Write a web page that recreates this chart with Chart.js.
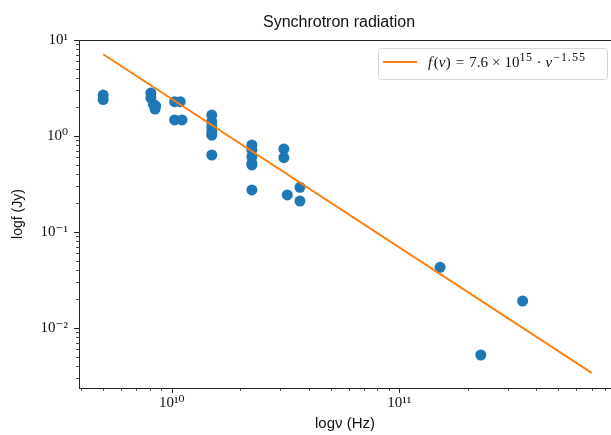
<!DOCTYPE html>
<html>
<head>
<meta charset="utf-8">
<script src="https://cdn.jsdelivr.net/npm/chart.js@4"></script>
<style>
  html, body { margin: 0; padding: 0; background: #fff; overflow: hidden; }
</style>
</head>
<body>
<canvas id="sync-chart" width="611" height="435"></canvas>
<script>
const frequencies = [
  5.0e9, 5.0e9,
  8.1e9, 8.1e9, 8.3e9, 8.5e9, 8.45e9,
  1.03e10, 1.09e10, 1.03e10, 1.11e10,
  1.5e10, 1.5e10, 1.5e10, 1.5e10, 1.5e10, 1.5e10,
  2.25e10, 2.25e10, 2.25e10, 2.25e10, 2.25e10, 2.25e10,
  3.11e10, 3.11e10, 3.22e10, 3.66e10, 3.66e10,
  1.51e11, 2.28e11, 3.48e11
];
const fluxes = [
  2.67, 2.40,
  2.81, 2.49, 2.15, 2.05, 1.91,
  2.28, 2.28, 1.47, 1.47,
  1.65, 1.41, 1.25, 1.11, 1.02, 0.634,
  0.806, 0.715, 0.609, 0.519, 0.499, 0.274,
  0.732, 0.594, 0.243, 0.292, 0.210,
  0.0429, 0.00523, 0.0191
];
// power law fit, start and end of the drawn line
const fitFrequencies = [5e9, 7e11];
const fitFluxes = [7.1, 3.4e-3];

const xMajorTicks = [1e10, 1e11];
const xMajorLabels = ['10¹⁰', '10¹¹'];
const yMajorTicks = [1e-2, 1e-1, 1e0, 1e1];
const yMajorLabels = ['10⁻²', '10⁻¹', '10⁰', '10¹'];

const axisColor = '#262626';
const serif = '"Liberation Serif", "DejaVu Serif", serif';

function isDecade(v) {
  const l = Math.log10(v);
  return Math.abs(l - Math.round(l)) < 1e-9;
}

function labelFor(value, majors, labels) {
  const i = majors.findIndex(m => Math.abs(value / m - 1) < 1e-6);
  return i >= 0 ? labels[i] : '';
}

// matplotlib style log ticks: 1..9 in every decade
function logTicks(scale) {
  const ticks = [];
  const e0 = Math.floor(Math.log10(scale.min));
  const e1 = Math.ceil(Math.log10(scale.max));
  for (let e = e0; e <= e1; e++) {
    for (let m = 1; m < 10; m++) {
      const v = m * Math.pow(10, e);
      if (v >= scale.min * 0.999 && v <= scale.max * 1.001) ticks.push({ value: v });
    }
  }
  scale.ticks = ticks;
}

// top spine, tick marks (major longer than minor) and title
const decorations = {
  id: 'decorations',
  afterDraw(chart) {
    const { ctx, chartArea, scales } = chart;
    ctx.save();
    ctx.strokeStyle = axisColor;
    ctx.lineWidth = 1;
    ctx.beginPath();
    ctx.moveTo(chartArea.left, chartArea.top + 0.5);
    ctx.lineTo(chartArea.right, chartArea.top + 0.5);
    ctx.stroke();

    scales.x.ticks.forEach(t => {
      const px = Math.round(scales.x.getPixelForValue(t.value)) + 0.5;
      const len = isDecade(t.value) ? 5 : 3;
      ctx.lineWidth = isDecade(t.value) ? 1 : 0.8;
      ctx.beginPath();
      ctx.moveTo(px, chartArea.bottom);
      ctx.lineTo(px, chartArea.bottom + len);
      ctx.stroke();
    });
    scales.y.ticks.forEach(t => {
      const py = Math.round(scales.y.getPixelForValue(t.value)) + 0.5;
      const len = isDecade(t.value) ? 5 : 3;
      ctx.lineWidth = isDecade(t.value) ? 1 : 0.8;
      ctx.beginPath();
      ctx.moveTo(chartArea.left, py);
      ctx.lineTo(chartArea.left - len, py);
      ctx.stroke();
    });

    ctx.fillStyle = '#111';
    ctx.font = '16px "Liberation Sans", sans-serif';
    ctx.textAlign = 'center';
    ctx.textBaseline = 'alphabetic';
    ctx.fillText('Synchrotron radiation', 339, 27);
    ctx.restore();
  }
};

// legend with the fit formula, superscripts drawn smaller and raised
const formulaLegend = {
  id: 'formulaLegend',
  afterDraw(chart) {
    const { ctx, chartArea } = chart;
    const left = 378;
    const right = 607;
    const top = chartArea.top + 8;
    const h = 31;
    ctx.save();
    ctx.fillStyle = 'rgba(255,255,255,0.8)';
    ctx.strokeStyle = '#d6d6d6';
    ctx.lineWidth = 1;
    ctx.beginPath();
    ctx.roundRect(left + 0.5, top + 0.5, right - left, h, 3);
    ctx.fill();
    ctx.stroke();

    const midY = top + 14;
    ctx.strokeStyle = '#ff7f0e';
    ctx.lineWidth = 2;
    ctx.beginPath();
    ctx.moveTo(left + 5, midY);
    ctx.lineTo(left + 39, midY);
    ctx.stroke();

    const base = top + 19;
    const roman = '15px ' + serif;
    const italic = 'italic 15px ' + serif;
    const sup = '12px ' + serif;
    // [text, font, gap before, raise, letter spacing]
    const parts = [
      ['f', italic, 0, 0, 0], ['(', roman, 1.5, 0, 0], ['ν', italic, 0, 0, 0], [')', roman, 0.5, 0, 0],
      ['=', roman, 5, 0, 0], ['7.6', roman, 5, 0, 0], ['×', roman, 4, 0, 0], ['10', roman, 4, 0, 0],
      ['15', sup, 0, -6, 0.5], ['·', roman, 4, 0, 0], ['ν', italic, 4, 0, 0], ['−1.55', sup, 1, -6, 1]
    ];
    ctx.fillStyle = '#111';
    ctx.textBaseline = 'alphabetic';
    let x = left + 50;
    parts.forEach(([text, font, gap, dy, ls]) => {
      ctx.font = font;
      ctx.letterSpacing = ls + 'px';
      x += gap;
      ctx.fillText(text, x, base + dy);
      x += ctx.measureText(text).width;
    });
    ctx.restore();
  }
};

const ctx = document.getElementById('sync-chart').getContext('2d');
new Chart(ctx, {
  type: 'scatter',
  data: {
    datasets: [
      {
        label: 'f(ν) = 7.6 × 10¹⁵ · ν^−1.55',
        data: fitFrequencies.map((f, i) => ({ x: f, y: fitFluxes[i] })),
        showLine: true,
        borderColor: '#ff7f0e',
        borderWidth: 2,
        pointRadius: 0,
        order: 0
      },
      {
        label: 'data',
        data: frequencies.map((f, i) => ({ x: f, y: fluxes[i] })),
        backgroundColor: '#1f77b4',
        borderWidth: 0,
        pointRadius: 5.5,
        order: 1
      }
    ]
  },
  options: {
    responsive: false,
    animation: false,
    layout: { autoPadding: false, padding: { top: 40, left: 0, right: 0, bottom: 0 } },
    plugins: {
      legend: { display: false },
      title: { display: false },
      tooltip: { enabled: false }
    },
    scales: {
      x: {
        type: 'logarithmic',
        min: 3.915e9,
        max: 8.51e11,
        afterBuildTicks: logTicks,
        afterFit: scale => {
          scale.height = 47;
          scale.paddingLeft = 0;
          scale.paddingRight = 0;
        },
        grid: { drawOnChartArea: false, drawTicks: true, tickLength: 5, tickColor: 'rgba(0,0,0,0)' },
        border: { display: true, color: axisColor, width: 1 },
        ticks: {
          autoSkip: false,
          maxRotation: 0,
          padding: 1,
          color: '#111',
          font: { family: serif, size: 15 },
          callback: v => labelFor(v, xMajorTicks, xMajorLabels)
        },
        title: {
          display: true,
          text: 'logν (Hz)',
          color: '#111',
          font: { family: '"Liberation Sans", sans-serif', size: 15 },
          padding: { top: 0, bottom: 2 }
        }
      },
      y: {
        type: 'logarithmic',
        min: 2.37e-3,
        max: 10,
        afterBuildTicks: logTicks,
        afterFit: scale => {
          scale.width = 79;
          scale.paddingTop = 0;
          scale.paddingBottom = 0;
        },
        grid: { drawOnChartArea: false, drawTicks: true, tickLength: 5, tickColor: 'rgba(0,0,0,0)' },
        border: { display: true, color: axisColor, width: 1 },
        ticks: {
          autoSkip: false,
          padding: 6,
          color: '#111',
          font: { family: serif, size: 15 },
          callback: v => labelFor(v, yMajorTicks, yMajorLabels)
        },
        title: {
          display: true,
          text: 'logf (Jy)',
          color: '#111',
          font: { family: '"Liberation Sans", sans-serif', size: 14 },
          padding: { top: 10, bottom: 0 }
        }
      }
    }
  },
  plugins: [decorations, formulaLegend]
});
</script>
</body>
</html>
